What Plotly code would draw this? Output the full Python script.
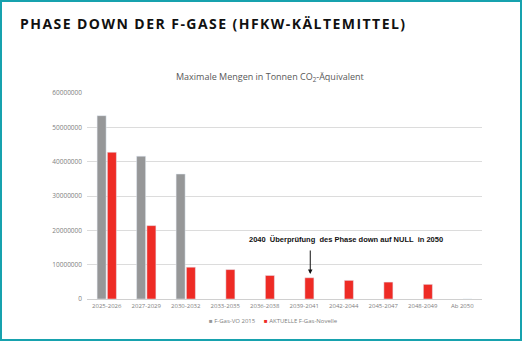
import plotly.graph_objects as go

categories = ["2025-2026", "2027-2029", "2030-2032", "2033-2035", "2036-2038",
              "2039-2041", "2042-2044", "2045-2047", "2048-2049", "Ab 2050"]
fgas_2015 = [53400000, 41600000, 36400000, None, None, None, None, None, None, None]
novelle = [42752278, 21376139, 9261186, 8570370, 6852180, 6192054, 5424795, 4928342, 4267669, 0]
tick_vals = [0, 10000000, 20000000, 30000000, 40000000, 50000000, 60000000]
tick_text = [str(v) for v in tick_vals]

GREY = "#969798"
RED = "#ee2b25"
TEAL = "#17a2ae"

W, H = 525, 342
L, R, T, B = 87, 43, 93, 43
pw, ph = W - L - R, H - T - B

def px(x):
    return (x - L) / pw

def py(y):
    return (H - B - y) / ph

fig = go.Figure()
fig.add_trace(go.Bar(x=categories, y=fgas_2015, name="F-Gas-VO 2015",
                     marker_color=GREY, showlegend=False))
fig.add_trace(go.Bar(x=categories, y=novelle, name="AKTUELLE F-Gas-Novelle",
                     marker_color=RED, showlegend=False))

fig.update_layout(
    width=W, height=H,
    margin=dict(l=L, r=R, t=T, b=B),
    paper_bgcolor="white", plot_bgcolor="white",
    barmode="group", bargap=0.48, bargroupgap=0.12,
    font=dict(family="Open Sans", color="#7f7f7f"),
)
fig.update_yaxes(range=[0, 60000000], tickvals=tick_vals, ticktext=tick_text,
                 showgrid=True, gridcolor="#dcdcdc", gridwidth=1,
                 zeroline=True, zerolinecolor="#d0d0d0", zerolinewidth=1,
                 tickfont=dict(size=6.5, color="#808080"), ticks="", ticklabelstandoff=4,
                 fixedrange=True)
fig.update_xaxes(showline=False, tickfont=dict(size=6, color="#808080"),
                 ticks="", ticklabelstandoff=2, fixedrange=True)

ann = []
# page title
ann.append(dict(text="<span style='letter-spacing:1.45px'><b>PHASE DOWN DER F-GASE (HFKW-KÄLTEMITTEL)</b></span>",
                xref="paper", yref="paper", x=px(18), y=py(24),
                xanchor="left", yanchor="middle", showarrow=False,
                font=dict(family="Open Sans", size=14, color="#111111")))
# chart title
ann.append(dict(text="Maximale Mengen in Tonnen CO<sub>2</sub>-Äquivalent",
                xref="paper", yref="paper", x=px(270), y=py(77),
                xanchor="center", yanchor="middle", showarrow=False,
                font=dict(family="Open Sans", size=9, color="#595959")))
# annotation text
ann.append(dict(text="<b>2040  Überprüfung  des Phase down auf NULL  in 2050</b>",
                xref="paper", yref="paper", x=px(346), y=py(239),
                xanchor="center", yanchor="middle", showarrow=False,
                font=dict(family="Liberation Sans Narrow, Liberation Sans", size=7.5, color="#111111")))
# arrow
ann.append(dict(text=" ", xref="x", yref="paper", x="2039-2041", y=py(274), xshift=6,
                ax=0, ay=-29, showarrow=True, arrowhead=2, arrowsize=0.9,
                arrowwidth=1, arrowcolor="#111111", font=dict(size=6)))
# legend
ann.append(dict(text=f"<span style='color:{GREY}'>■</span> F-Gas-VO 2015",
                xref="paper", yref="paper", x=px(207), y=py(321),
                xanchor="left", yanchor="middle", showarrow=False,
                font=dict(family="Open Sans", size=6, color="#808080")))
ann.append(dict(text=f"<span style='color:{RED}'>■</span> AKTUELLE F-Gas-Novelle",
                xref="paper", yref="paper", x=px(262), y=py(321),
                xanchor="left", yanchor="middle", showarrow=False,
                font=dict(family="Open Sans", size=6, color="#808080")))
fig.update_layout(annotations=ann)

# teal frame
fig.add_shape(type="rect", xref="paper", yref="paper",
              x0=px(1), x1=px(521), y0=py(340), y1=py(1),
              line=dict(color=TEAL, width=2), fillcolor="rgba(0,0,0,0)", layer="above")

fig.write_html("out.html")
